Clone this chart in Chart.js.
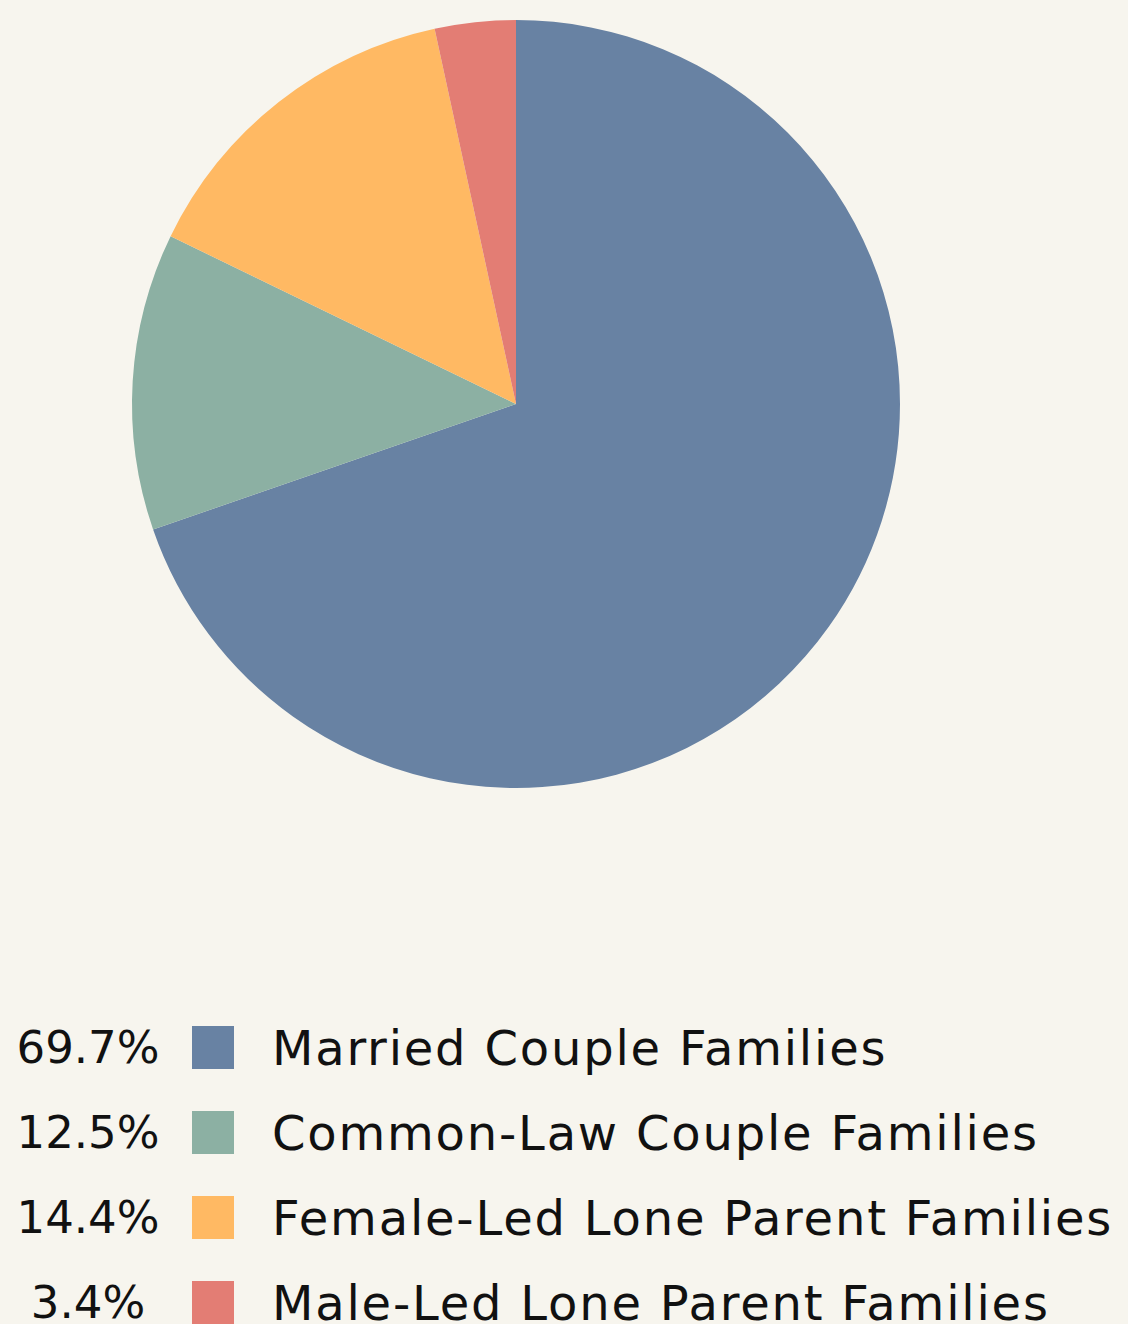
<!DOCTYPE html>
<html>
<head>
<meta charset="utf-8">
<script src="https://cdn.jsdelivr.net/npm/chart.js@4"></script>
<style>
  html, body { margin: 0; padding: 0; background: #f7f5ee; }
  body { width: 1128px; height: 1324px; overflow: hidden; position: relative; font-family: "DejaVu Sans", sans-serif; }
  #wrap { position: absolute; left: 0; top: 0; width: 1032px; height: 808px; }
  #legend { position: absolute; left: 0; top: 1005px; width: 1128px; }
  .row { display: flex; align-items: center; height: 85px; color: #111; }
  .pct { width: 176px; text-align: center; font-size: 45px; }
  .box { width: 42px; height: 43px; margin-left: 16px; }
  .lbl { margin-left: 38px; font-size: 48px; letter-spacing: 1.8px; white-space: nowrap; }
</style>
</head>
<body>
<div id="wrap"><canvas id="c"></canvas></div>
<div id="legend"></div>
<script>
const labels = ['Married Couple Families', 'Common-Law Couple Families', 'Female-Led Lone Parent Families', 'Male-Led Lone Parent Families'];
const values = [69.7, 12.5, 14.4, 3.4];
const colors = ['#6882a3', '#8cb0a3', '#ffb963', '#e37d74'];

new Chart(document.getElementById('c'), {
    type: 'pie',
    data: { labels: labels, datasets: [{ data: values, backgroundColor: colors, borderWidth: 0 }] },
    options: {
        responsive: true, maintainAspectRatio: false, animation: false,
        layout: { padding: { top: 20, bottom: 20 } },
        plugins: { legend: { display: false }, tooltip: { enabled: false } }
    }
});

// custom legend, percentages on the left
const legend = document.getElementById('legend');
labels.forEach((l, i) => {
    legend.innerHTML += `<div class="row"><span class="pct">${values[i].toFixed(1)}%</span>` +
        `<span class="box" style="background:${colors[i]}"></span><span class="lbl">${l}</span></div>`;
});
</script>
</body>
</html>
